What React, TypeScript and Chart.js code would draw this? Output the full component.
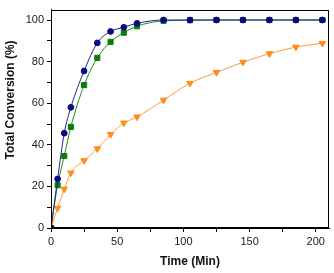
import React, { useEffect, useRef } from "react";
import { Chart, registerables } from "chart.js";

Chart.register(...registerables);

const timeMin = [0, 5, 10, 15, 25, 35, 45, 55, 65, 85, 105, 125, 145, 165, 185, 205];
const seriesBlue = [0, 23.6, 45.6, 58, 75.5, 89, 94.5, 96.5, 98.4, 100, 100, 100, 100, 100, 100, 100];
const seriesGreen = [0, 20.6, 34.6, 48.6, 68.7, 81.8, 89.5, 93.9, 97, 99.6, 99.9, 100, 100, 100, 100, 100];
const seriesOrange = [0, 9.6, 18.7, 26.5, 32.4, 38.1, 45, 50.5, 53.4, 61.5, 69.6, 74.8, 79.7, 83.8, 87, 88.8];

const xTickValues = [0, 25, 50, 75, 100, 125, 150, 175, 200];
const yTickValues = [0, 10, 20, 30, 40, 50, 60, 70, 80, 90, 100];

const xTitle = "Time (Min)";
const yTitle = "Total Conversion (%)";

const toPoints = (ys: number[]) => ys.map((y, i) => ({ x: timeMin[i], y }));

const framePlugin = {
  id: "frameAndTitle",
  afterDraw(chart: any) {
    const { ctx, chartArea } = chart;
    ctx.save();
    ctx.strokeStyle = "#000";
    ctx.lineWidth = 1;
    ctx.strokeRect(
      Math.round(chartArea.left) + 0.5,
      Math.round(chartArea.top) + 0.5,
      Math.round(chartArea.right - chartArea.left) - 1,
      Math.round(chartArea.bottom - chartArea.top) - 1
    );
    ctx.translate(11, 100);
    ctx.rotate(-Math.PI / 2);
    ctx.font = "bold 12px 'Liberation Sans', Arial, sans-serif";
    ctx.fillStyle = "#111";
    ctx.textAlign = "center";
    ctx.textBaseline = "middle";
    ctx.fillText(yTitle, 0, 0);
    ctx.restore();
  },
};

export default function App() {
  const ref = useRef<HTMLCanvasElement | null>(null);

  useEffect(() => {
    document.body.style.margin = "0";
    const canvas = ref.current;
    if (!canvas) return;
    const tickFont = { family: "'Liberation Sans', Arial, sans-serif", size: 11 };
    const chart = new Chart(canvas, {
      type: "line",
      data: {
        datasets: [
          {
            data: toPoints(seriesBlue),
            borderColor: "#23238c",
            backgroundColor: "#0a0a80",
            pointBorderColor: "#0a0a80",
            pointStyle: "circle",
            pointRadius: 2.9,
            borderWidth: 1,
            cubicInterpolationMode: "monotone",
          },
          {
            data: toPoints(seriesGreen),
            borderColor: "#1f8a1f",
            backgroundColor: "#0a7d0a",
            pointBorderColor: "#0a7d0a",
            pointStyle: "rect",
            pointRadius: 3.6,
            borderWidth: 1,
            cubicInterpolationMode: "monotone",
          },
          {
            data: toPoints(seriesOrange),
            borderColor: "#ff9a40",
            backgroundColor: "#ff8c1e",
            pointBorderColor: "#ff8c1e",
            pointStyle: "triangle",
            pointRotation: 180,
            pointRadius: 3.8,
            borderWidth: 1,
            cubicInterpolationMode: "monotone",
          },
        ],
      },
      options: {
        responsive: false,
        animation: false,
        layout: { padding: { top: 3, right: 4, left: 0, bottom: 0 } },
        plugins: { legend: { display: false }, tooltip: { enabled: false } },
        elements: { point: { borderWidth: 0 } },
        scales: {
          x: {
            type: "linear",
            min: 0,
            max: 210,
            afterFit: (s: any) => {
              s.height = 45;
            },
            afterBuildTicks: (s: any) => {
              s.ticks = xTickValues.map((value) => ({ value }));
            },
            ticks: {
              autoSkip: false,
              maxRotation: 0,
              padding: 3,
              color: "#1a1a1a",
              font: tickFont,
              callback: (v: any) => (Number(v) % 50 === 0 ? String(v) : ""),
            },
            grid: { drawOnChartArea: false, tickLength: 4, color: "#000", tickColor: "#000" },
            border: { display: true, color: "#000", width: 1 },
            title: {
              display: true,
              text: xTitle,
              color: "#111",
              font: { family: "'Liberation Sans', Arial, sans-serif", size: 12, weight: "bold" },
              padding: { top: 0, bottom: 4 },
            },
          },
          y: {
            type: "linear",
            min: 0,
            max: 105,
            afterFit: (s: any) => {
              s.width = 51;
            },
            afterBuildTicks: (s: any) => {
              s.ticks = yTickValues.map((value) => ({ value }));
            },
            ticks: {
              autoSkip: false,
              padding: 3,
              color: "#1a1a1a",
              font: tickFont,
              callback: (v: any) => (Number(v) % 20 === 0 ? String(v) : ""),
            },
            grid: { drawOnChartArea: false, tickLength: 4, color: "#000", tickColor: "#000" },
            border: { display: true, color: "#000", width: 1 },
          },
        },
      },
      plugins: [framePlugin],
    } as any);
    return () => chart.destroy();
  }, []);

  return (
    <div style={{ width: 334, height: 273 }}>
      <canvas ref={ref} width={334} height={273} style={{ display: "block" }} />
    </div>
  );
}
